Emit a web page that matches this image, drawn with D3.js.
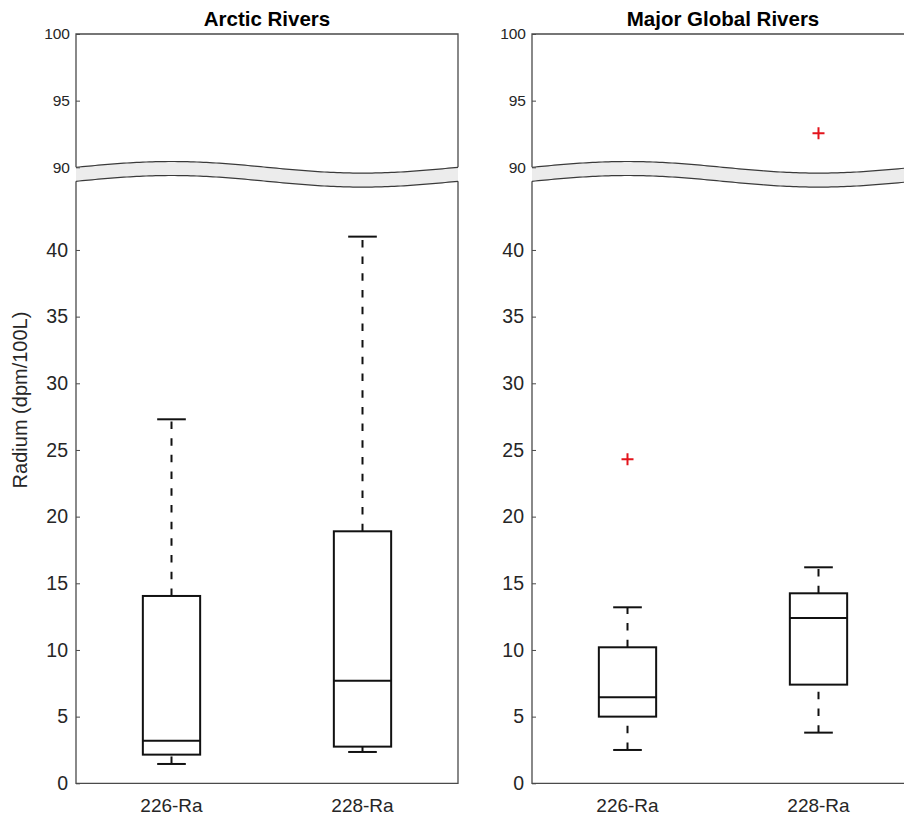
<!DOCTYPE html>
<html>
<head>
<meta charset="utf-8">
<script src="https://cdn.jsdelivr.net/npm/d3@7"></script>
<style>
  html, body { margin: 0; padding: 0; background: #fff; }
  svg { display: block; font-family: "Liberation Sans", Arial, Helvetica, sans-serif; }
</style>
</head>
<body>
<svg id="chart" width="904" height="816"></svg>
<script>
// Radium activity box plots, split axis (0–45 below the break, 90–100 above it)
const panels = ["Arctic Rivers", "Major Global Rivers"];
const isotopes = ["226-Ra", "228-Ra"];

// five-number summaries: [lower whisker, Q1, median, Q3, upper whisker]
const arcticStats = [
  [1.45, 2.15, 3.2, 14.05, 27.3],
  [2.35, 2.75, 7.7, 18.9, 41.0]
];
const globalStats = [
  [2.5, 5.0, 6.45, 10.2, 13.2],
  [3.8, 7.4, 12.4, 14.25, 16.2]
];
const arcticOutliers = [[], []];
const globalOutliers = [[24.3], [92.55]];

const lowerTicks = [0, 5, 10, 15, 20, 25, 30, 35, 40];
const upperTicks = [90, 95, 100];
const lowerDomain = [0, 45];
const upperDomain = [90, 100];

const panelData = [
  { title: panels[0], stats: arcticStats, outliers: arcticOutliers, left: 76 },
  { title: panels[1], stats: globalStats, outliers: globalOutliers, left: 532 }
];

const plotW = 382;           // plot width of each panel
const plotTop = 34, plotBottom = 783.3;
const upperBottom = 167.3, breakGap = 14;
const axisColor = "#4a4a4a";
const textColor = "#262626";

const svg = d3.select("#chart");

const yUpper = d3.scaleLinear().domain(upperDomain).range([upperBottom, plotTop]);
const yLower = d3.scaleLinear().domain(lowerDomain).range([plotBottom, 183.3]);
const yOf = v => (v >= upperDomain[0] ? yUpper(v) : yLower(v));

// wavy break line shape
const waveAmp = 5.8;
function waveY(base, t) { return base - waveAmp * Math.sin(2 * Math.PI * t); }

panelData.forEach(p => {
  const g = svg.append("g").attr("transform", `translate(${p.left},0)`);
  const x = d3.scaleBand().domain(isotopes).range([0, plotW]).padding(0);
  const cx = d => x(d) + x.bandwidth() / 2;
  const unit = x.bandwidth();            // one category spacing in px
  const boxW = unit * 0.3, capW = unit * 0.15;

  const upBase = upperBottom, loBase = upperBottom + breakGap;
  const n = 120;
  const ts = d3.range(n + 1).map(i => i / n);
  const upPts = ts.map(t => [t * plotW, waveY(upBase, t)]);
  const loPts = ts.map(t => [t * plotW, waveY(loBase, t)]);

  // frame: top + sides above the break, sides + bottom below the break
  g.append("path")
    .attr("d", `M0,${upPts[0][1]} V${plotTop} H${plotW} V${upPts[n][1]}`)
    .attr("fill", "none").attr("stroke", axisColor).attr("stroke-width", 1.3);
  g.append("path")
    .attr("d", `M0,${loPts[0][1]} V${plotBottom} H${plotW} V${loPts[n][1]}`)
    .attr("fill", "none").attr("stroke", axisColor).attr("stroke-width", 1.3);

  // break band
  const line = d3.line().curve(d3.curveLinear);
  g.append("path")
    .attr("d", line(upPts) + "L" + loPts.slice().reverse().map(d => d.join(",")).join("L") + "Z")
    .attr("fill", "#ececec").attr("stroke", "none");
  [upPts, loPts].forEach(pts => {
    g.append("path").attr("d", line(pts))
      .attr("fill", "none").attr("stroke", "#3a3a3a").attr("stroke-width", 1.2);
  });

  // y axes (ticks pointing inward)
  const axL = g.append("g").call(
    d3.axisLeft(yLower).tickValues(lowerTicks).tickSizeInner(-4).tickSizeOuter(0).tickPadding(8));
  const axU = g.append("g").call(
    d3.axisLeft(yUpper).tickValues(upperTicks).tickSizeInner(-4).tickSizeOuter(0).tickPadding(6));
  [axL, axU].forEach(a => {
    a.select(".domain").remove();
    a.selectAll("line").attr("stroke", axisColor).attr("stroke-width", 1);
    a.attr("font-family", null).attr("font-size", null);
    a.selectAll("text").attr("fill", textColor);
  });
  axL.selectAll("text").attr("font-size", 19.5);
  axU.selectAll("text").attr("font-size", 15.5);

  // x axis labels
  const axX = g.append("g").attr("transform", `translate(0,${plotBottom})`)
    .call(d3.axisBottom(x).tickSize(0).tickPadding(15));
  axX.select(".domain").remove();
  axX.attr("font-family", null).attr("font-size", null);
  axX.selectAll("text").attr("fill", textColor).attr("font-size", 19);

  // title
  g.append("text").attr("x", plotW / 2).attr("y", 25.5).attr("text-anchor", "middle")
    .attr("font-size", 20.5).attr("font-weight", "bold").attr("fill", "#000")
    .text(p.title);

  // boxes
  isotopes.forEach((iso, i) => {
    const [lo, q1, med, q3, hi] = p.stats[i];
    const c = cx(iso);
    const bg = g.append("g").attr("fill", "none").attr("stroke", "#111").attr("stroke-width", 2);
    // whiskers drawn bottom-up so the dash pattern starts at the lower end
    bg.append("path").attr("d", `M${c},${yOf(lo)} V${yOf(q1)}`).attr("stroke-dasharray", "7.5,9.2");
    bg.append("path").attr("d", `M${c},${yOf(q3)} V${yOf(hi)}`).attr("stroke-dasharray", "7.5,9.2");
    bg.append("path").attr("d", `M${c - capW / 2},${yOf(lo)} H${c + capW / 2}`);
    bg.append("path").attr("d", `M${c - capW / 2},${yOf(hi)} H${c + capW / 2}`);
    bg.append("rect").attr("x", c - boxW / 2).attr("y", yOf(q3))
      .attr("width", boxW).attr("height", yOf(q1) - yOf(q3));
    bg.append("path").attr("d", `M${c - boxW / 2},${yOf(med)} H${c + boxW / 2}`);

    // outliers as red plus signs
    p.outliers[i].forEach(v => {
      const y = yOf(v), s = 6;
      g.append("path")
        .attr("d", `M${c - s},${y} H${c + s} M${c},${y - s} V${y + s}`)
        .attr("stroke", "#e3141c").attr("stroke-width", 2).attr("fill", "none");
    });
  });
});

// shared y axis title
svg.append("text")
  .attr("transform", "translate(22,400) rotate(-90)")
  .attr("text-anchor", "middle").attr("dominant-baseline", "middle")
  .attr("font-size", 20).attr("fill", textColor)
  .text("Radium (dpm/100L)");
</script>
</body>
</html>
